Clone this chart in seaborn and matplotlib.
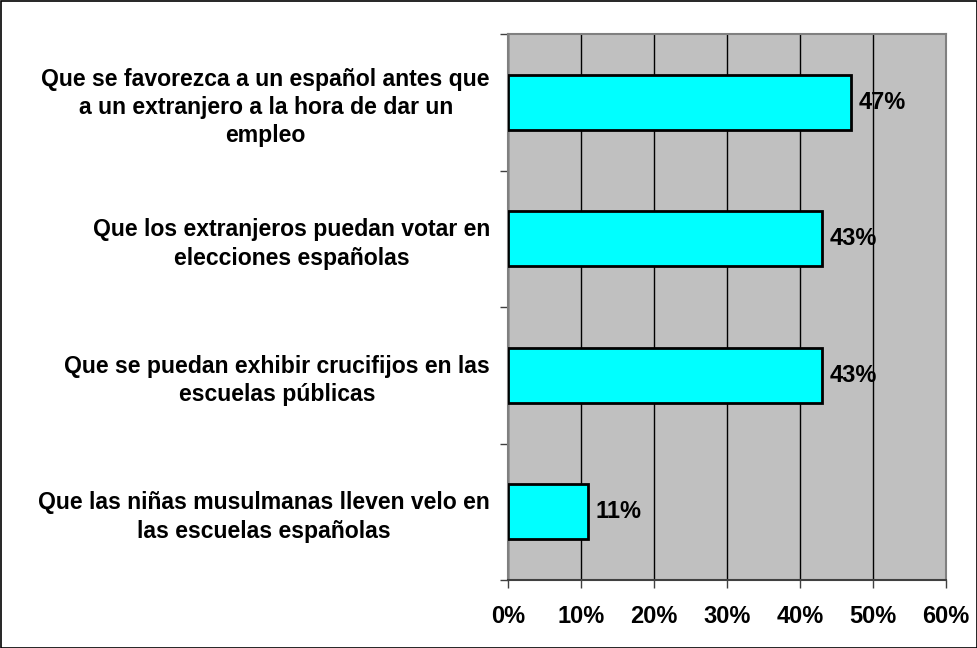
import matplotlib
matplotlib.use("Agg")
import matplotlib.pyplot as plt
import seaborn as sns
import pandas as pd
from matplotlib.patches import Rectangle
from matplotlib.ticker import FixedLocator

categories = [
    "Que se favorezca a un español antes que\na un extranjero a la hora de dar un\nempleo",
    "Que los extranjeros puedan votar en\nelecciones españolas",
    "Que se puedan exhibir crucifijos en las\nescuelas públicas",
    "Que las niñas musulmanas lleven velo en\nlas escuelas españolas",
]
values = [47, 43, 43, 11]
xticks = [0, 10, 20, 30, 40, 50, 60]
xticklabels = ["0%", "10%", "20%", "30%", "40%", "50%", "60%"]

df = pd.DataFrame({"cat": categories, "val": values})

sns.set_theme(style="white")
plt.rcParams['font.family'] = ['Liberation Sans', 'DejaVu Sans']
plt.rcParams['text.color'] = 'black'
plt.rcParams['xtick.color'] = 'black'
plt.rcParams['ytick.color'] = 'black'
plt.rcParams['xtick.labelcolor'] = 'black'
plt.rcParams['ytick.labelcolor'] = 'black'

FS = 17
FS_CAT = 16.6

W, H = 978, 648
fig = plt.figure(figsize=(W / 100, H / 100), dpi=100)
ax = fig.add_axes([508 / W, 1 - 580 / H, (946 - 508) / W, (580 - 34) / H])
ax.set_facecolor("#C0C0C0")

sns.barplot(data=df, x="val", y="cat", orient="h", color="#00FFFF",
            edgecolor="black", linewidth=2, width=0.4, saturation=1, ax=ax, zorder=3)

ax.set_xlim(0, 60)
ax.set_ylim(3.5, -0.5)
ax.set_xticks(xticks)
ax.set_xticklabels(xticklabels, fontsize=FS, fontweight="bold", color="black")
ax.grid(axis="x", color="black", linewidth=1, zorder=1)
ax.set_axisbelow(True)
ax.set_xlabel("")
ax.set_ylabel("")

ax.set_yticks(range(len(categories)))
ax.set_yticklabels(categories, fontsize=FS_CAT, fontweight="bold", color="black",
                   multialignment="center", linespacing=1.3)
ax.tick_params(axis="y", which="major", length=0, pad=13)
ax.yaxis.set_minor_locator(FixedLocator([-0.5, 0.5, 1.5, 2.5, 3.5]))
ax.tick_params(axis="y", which="minor", length=6, width=1, color="#404040", left=True)
ax.tick_params(axis="x", which="major", length=6, width=1, color="#404040",
               bottom=True, pad=12)

for s in ["top", "right", "left"]:
    ax.spines[s].set_color("#808080")
    ax.spines[s].set_linewidth(1.5)
ax.spines["bottom"].set_color("#404040")
ax.spines["bottom"].set_linewidth(1.5)

for i, v in enumerate(values):
    ax.text(v + 1.0, i, f"{v}%", va="center", ha="left",
            fontsize=FS, fontweight="bold", color="black", zorder=5)

fig.patches.append(Rectangle((0.5 / W, 0.5 / H), 1 - 1.5 / W, 1 - 1.5 / H,
                             transform=fig.transFigure, fill=False,
                             edgecolor="black", linewidth=1.2))

fig.savefig("out.png", dpi=100, facecolor="white")
